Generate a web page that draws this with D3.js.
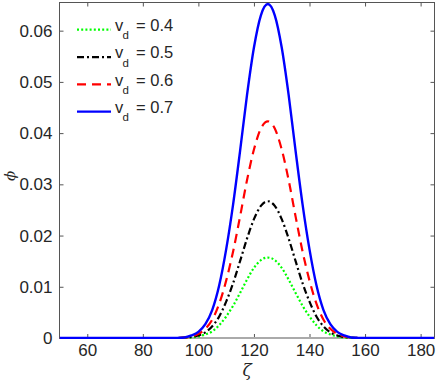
<!DOCTYPE html>
<html lang="en">
<head>
<meta charset="utf-8"/>
<title>Soliton profiles</title>
<script src="https://d3js.org/d3.v7.min.js"></script>
<style>
  body { margin: 0; background: #fff; }
  text { font-family: "Liberation Sans", Arial, sans-serif; fill: #262626; }
</style>
</head>
<body>
<script>
// data
var zeta = [50, 90, 92.5, 95, 97.5, 100, 102.5, 105, 107.5, 110, 112.5, 115, 117.5, 120, 122.5,
            125, 127.5, 130, 132.5, 135, 137.5, 140, 142.5, 145, 147.5, 150, 152.5, 155, 157.5, 160, 185];

var phi04 = [0, 0, 0, 0, 0.0001, 0.0003, 0.0007, 0.0013, 0.0025, 0.0042, 0.0063, 0.0088, 0.0114, 0.0137, 0.0152,
             0.0157, 0.0152, 0.0137, 0.0114, 0.0088, 0.0063, 0.0042, 0.0025, 0.0013, 0.0007, 0.0003, 0.0001, 0, 0, 0, 0];
var phi05 = [0, 0, 0, 0.0001, 0.0002, 0.0005, 0.0011, 0.0023, 0.0042, 0.0071, 0.0107, 0.0150, 0.0194, 0.0232, 0.0258,
             0.0267, 0.0258, 0.0232, 0.0194, 0.0150, 0.0107, 0.0071, 0.0042, 0.0023, 0.0011, 0.0005, 0.0002, 0.0001, 0, 0, 0];
var phi06 = [0, 0, 0, 0.0001, 0.0003, 0.0008, 0.0018, 0.0036, 0.0067, 0.0112, 0.0169, 0.0237, 0.0308, 0.0368, 0.0409,
             0.0423, 0.0409, 0.0368, 0.0308, 0.0237, 0.0169, 0.0112, 0.0067, 0.0036, 0.0018, 0.0008, 0.0003, 0.0001, 0, 0, 0];
var phi07 = [0, 0, 0.00003, 0.0001, 0.0005, 0.0012, 0.0027, 0.0055, 0.0103, 0.0173, 0.0261, 0.0365, 0.0474, 0.0567, 0.0630,
             0.0652, 0.0630, 0.0567, 0.0474, 0.0365, 0.0261, 0.0173, 0.0103, 0.0055, 0.0027, 0.0012, 0.0005, 0.0001, 0.00003, 0, 0];

var vdLabels = ["0.4", "0.5", "0.6", "0.7"];
var xTicks = [60, 80, 100, 120, 140, 160, 180];
var yTicks = [0, 0.01, 0.02, 0.03, 0.04, 0.05, 0.06];

// line styles, same order as vdLabels
var colors = ["#00ff00", "#000000", "#ff0000", "#0000ff"];
var dashes = ["2,2.2", "7,3,2,3", "9,6", null];

var series = [phi04, phi05, phi06, phi07];

// svg measurements (note: "top" is taken by window.top, so use pTop etc.)
var w = 436;
var h = 382;
var pLeft = 59.5, pRight = 434.5, pTop = 2.5, pBottom = 338;

var svg = d3.select("body")
            .append("svg")
            .attr("width", w)
            .attr("height", h);

var xScale = d3.scaleLinear().domain([50, 185]).range([pLeft, pRight]);
var yScale = d3.scaleLinear().domain([0, 0.0655]).range([pBottom, pTop]);

svg.append("clipPath").attr("id", "plotclip")
   .append("rect")
   .attr("x", pLeft).attr("y", pTop - 2)
   .attr("width", pRight - pLeft).attr("height", pBottom - pTop + 3);

// box
svg.append("rect")
   .attr("x", pLeft).attr("y", pTop)
   .attr("width", pRight - pLeft).attr("height", pBottom - pTop)
   .style("fill", "none")
   .style("stroke", "#555")
   .style("stroke-width", 1);

// axes, ticks pointing inward like matlab
var fmtY = function(d) { return d === 0 ? "0" : d3.format(".2f")(d); };

var gx = svg.append("g")
   .attr("transform", "translate(0," + pBottom + ")")
   .call(d3.axisBottom(xScale).tickValues(xTicks).tickSizeInner(-4).tickSizeOuter(0).tickPadding(6));
var gxt = svg.append("g")
   .attr("transform", "translate(0," + pTop + ")")
   .call(d3.axisTop(xScale).tickValues(xTicks).tickSizeInner(-4).tickSizeOuter(0).tickFormat(""));
var gy = svg.append("g")
   .attr("transform", "translate(" + pLeft + ",0)")
   .call(d3.axisLeft(yScale).tickValues(yTicks).tickSizeInner(-4).tickSizeOuter(0).tickPadding(7).tickFormat(fmtY));
var gyr = svg.append("g")
   .attr("transform", "translate(" + pRight + ",0)")
   .call(d3.axisRight(yScale).tickValues(yTicks).tickSizeInner(-4).tickSizeOuter(0).tickFormat(""));

[gx, gxt, gy, gyr].forEach(function(g) {
    g.select(".domain").remove();
    g.selectAll(".tick line").style("stroke", "#555");
    g.selectAll("text").style("font-size", "17px").style("fill", "#262626")
     .style("font-family", "'Liberation Sans', Arial, sans-serif");
});

// bottom axis line, lighter and thicker in the original
svg.append("line")
   .attr("x1", pLeft).attr("x2", pRight)
   .attr("y1", pBottom).attr("y2", pBottom)
   .style("stroke", "#aaa").style("stroke-width", 2);

// curves
var line = d3.line()
    .x(function(d, i) { return xScale(zeta[i]); })
    .y(function(d) { return yScale(d); })
    .curve(d3.curveMonotoneX);

var plot = svg.append("g").attr("clip-path", "url(#plotclip)");

series.forEach(function(s, k) {
    plot.append("path")
        .datum(s)
        .attr("d", line)
        .style("fill", "none")
        .style("stroke", colors[k])
        .style("stroke-width", k === 3 ? 2.4 : 2.2)
        .style("stroke-dasharray", dashes[k]);
});

// legend
var lg = svg.append("g");
var rowY = [29.7, 57.2, 84.4, 111.6];
vdLabels.forEach(function(v, k) {
    lg.append("line")
      .attr("x1", 77).attr("x2", 111)
      .attr("y1", rowY[k]).attr("y2", rowY[k])
      .style("stroke", colors[k])
      .style("stroke-width", k === 3 ? 2.4 : 2.2)
      .style("stroke-dasharray", dashes[k]);
    var t = lg.append("text").attr("y", rowY[k] + 1.2).style("font-size", "16.5px");
    t.append("tspan").attr("x", 115).text("v");
    t.append("tspan").attr("x", 122.5).attr("dy", 8.5).style("font-size", "11.5px").text("d");
    t.append("tspan").attr("x", 136).attr("dy", -8.5).text("= " + v);
});

// axis labels
svg.append("text")
   .attr("x", (pLeft + pRight) / 2)
   .attr("y", 376)
   .attr("text-anchor", "middle")
   .style("font-size", "17px")
   .style("font-style", "italic")
   .style("font-family", "'DejaVu Serif', serif")
   .text("\u03b6");

svg.append("text")
   .attr("transform", "translate(15,176) rotate(-90)")
   .attr("text-anchor", "middle")
   .style("font-size", "15px")
   .style("font-style", "italic")
   .style("font-family", "'DejaVu Serif', serif")
   .text("\u03d5");
</script>
</body>
</html>
